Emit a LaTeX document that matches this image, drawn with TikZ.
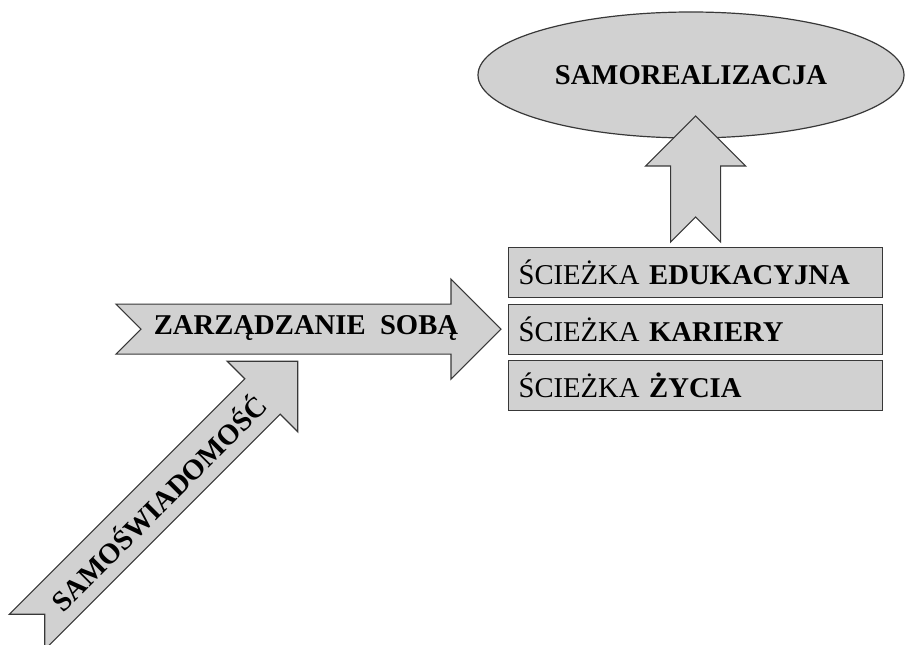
\documentclass[tikz,border=0pt]{standalone}
\usepackage{fontspec}
\setmainfont{Liberation Serif}
\usetikzlibrary{positioning,calc,shapes.geometric}
\definecolor{shapegray}{gray}{0.82}
\definecolor{edgegray}{gray}{0.22}

\begin{document}
\begin{tikzpicture}[x=0.75pt,y=-0.75pt,
		grayshape/.style={draw=edgegray,fill=shapegray,line width=0.9pt,line join=miter},
		bigtext/.style={font=\fontsize{21.5}{24}\selectfont\bfseries},
		pathbox/.style={grayshape,minimum height=37.5pt,text width=265.5pt,inner xsep=7.5pt,align=left,font=\fontsize{21.5}{24}\selectfont}]
		\useasboundingbox (0,0) rectangle (908,645);
		
		% goal
		\node[grayshape,ellipse,minimum width=319.5pt,minimum height=94.5pt,bigtext] (goal) at (691,75) {SAMOREALIZACJA};
		
		% paths
		\node[pathbox,anchor=north west] (edu) at (508,247) {ŚCIEŻKA \textbf{EDUKACYJNA}};
		\node[pathbox,below=4pt of edu] (career) {ŚCIEŻKA \textbf{KARIERY}};
		\node[pathbox,below=4pt of career] (life) {ŚCIEŻKA \textbf{ŻYCIA}};
		
		% arrow tails
		\coordinate (selftail) at ($(career.west)+(-392,0)$);
		\coordinate (awaretail) at (27,632);
		\coordinate (goaltail) at ($(edu.north)+(0,-5)$);
		
		% notched arrows: tail / angle / length
		\foreach \p/\a/\l in {selftail/0/385,awaretail/45/383,goaltail/90/126}{
			\begin{scope}[shift={(\p)},rotate=\a]
				\draw[grayshape] (0,-25) -- ({\l-50},-25) -- ({\l-50},-50) -- (\l,0)
					-- ({\l-50},50) -- ({\l-50},25) -- (0,25) -- (25,0) -- cycle;
			\end{scope}
		}
		
		% arrow labels
		\node[bigtext] (self) at (306,328) {ZARZĄDZANIE\ \ SOBĄ};
		\node[bigtext,rotate=45] (aware) at (158,502) {SAMOŚWIADOMOŚĆ};
	\end{tikzpicture}
\end{document}
